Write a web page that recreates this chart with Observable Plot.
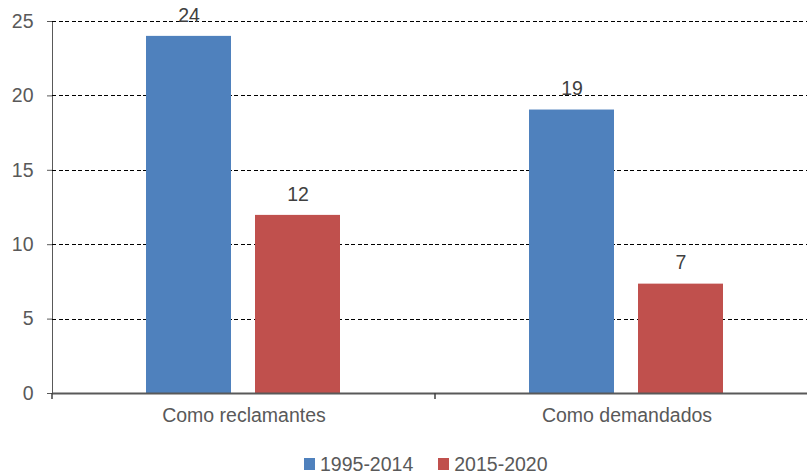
<!DOCTYPE html>
<html>
<head>
<meta charset="utf-8">
<script src="https://cdn.jsdelivr.net/npm/d3@7"></script>
<script src="https://cdn.jsdelivr.net/npm/@observablehq/plot@0.6"></script>
<style>
  body { margin: 0; background: #fff; font-family: "Liberation Sans", Arial, sans-serif; }
  #chart { width: 807px; height: 474px; overflow: hidden; }
  .legend { display: flex; align-items: flex-start; height: 21px; padding-top: 13px; padding-left: 304px; font-size: 19.5px; line-height: 22px; color: #595959; }
  .legend .item { display: flex; align-items: flex-start; margin-right: 25px; }
  .legend .sw { width: 11px; height: 12px; margin-top: 5px; margin-right: 5px; }
</style>
</head>
<body>
<div id="chart"></div>
<script>
const groups = ["Como reclamantes", "Como demandados"];
const series = ["1995-2014", "2015-2020"];
const values1995 = [24, 19.05];
const values2015 = [11.97, 7.35];
const colors = ["#4F81BD", "#C0504D"];
const yTicks = [0, 5, 10, 15, 20, 25];

const rows = [];
groups.forEach((g, i) => {
  rows.push({group: g, series: series[0], value: values1995[i]});
  rows.push({group: g, series: series[1], value: values2015[i]});
});

const plot = Plot.plot({
  width: 807,
  height: 440,
  marginLeft: 52,
  marginRight: -11,
  marginTop: 21,
  marginBottom: 47,
  style: {fontFamily: "Liberation Sans, Arial, sans-serif", fontSize: "19.5px", color: "#595959", background: "#fff"},
  facet: {data: rows, x: "group"},
  fx: {domain: groups, padding: 0, label: null, tickSize: 0, tickPadding: 15, axis: "bottom"},
  x: {domain: series, paddingInner: 0.218, paddingOuter: 0.85, axis: null},
  y: {domain: [0, 25], ticks: yTicks, tickSize: 5, tickPadding: 14, label: null, line: true},
  color: {domain: series, range: colors},
  marks: [
    Plot.ruleY(yTicks.filter(d => d > 0), {stroke: "#000", strokeWidth: 1, strokeDasharray: "4,2.5", shapeRendering: "crispEdges"}),
    Plot.barY(rows, {x: "series", y: "value", fill: "series"}),
    Plot.text(rows, {x: "series", y: "value", text: d => d3.format(".0f")(d.value), dy: -21, fill: "#404040", fontSize: 19.5}),
    Plot.ruleY([0], {stroke: "#595959", strokeWidth: 2})
  ]
});

// category separator ticks on the x axis, placed through the facet scale
const fx = plot.scale("fx");
const ys = plot.scale("y");
const y0 = ys.apply(0);
const svg = d3.select(plot);
groups.forEach(g => {
  const x = fx.apply(g);
  svg.append("line")
    .attr("x1", x).attr("x2", x)
    .attr("y1", y0).attr("y2", y0 + 6)
    .attr("stroke", "#404040").attr("stroke-width", 1.5);
});

const chart = document.getElementById("chart");
chart.appendChild(plot);

const legend = document.createElement("div");
legend.className = "legend";
series.forEach((s, i) => {
  const item = document.createElement("div");
  item.className = "item";
  const sw = document.createElement("div");
  sw.className = "sw";
  sw.style.background = colors[i];
  const label = document.createElement("span");
  label.textContent = s;
  item.appendChild(sw);
  item.appendChild(label);
  legend.appendChild(item);
});
chart.appendChild(legend);
</script>
</body>
</html>
